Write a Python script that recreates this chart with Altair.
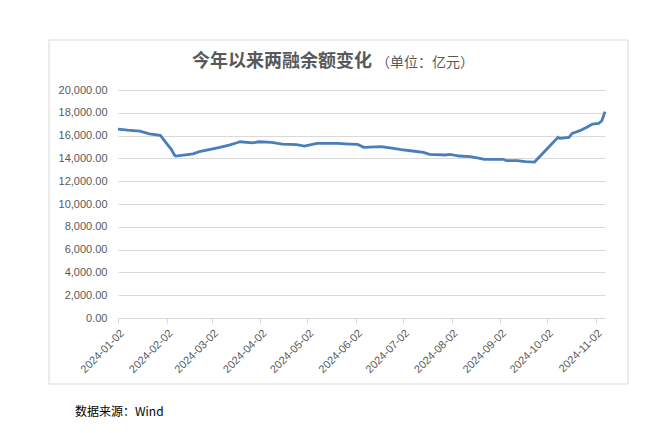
import altair as alt
import pandas as pd

dates = ["2024-01-02","2024-01-08","2024-01-16","2024-01-22","2024-01-29","2024-02-01",
         "2024-02-05","2024-02-07","2024-02-08","2024-02-19","2024-02-23","2024-03-01",
         "2024-03-07","2024-03-13","2024-03-18","2024-03-20","2024-03-28","2024-04-01",
         "2024-04-09","2024-04-16","2024-04-25","2024-04-30","2024-05-08","2024-05-21",
         "2024-05-29","2024-06-03","2024-06-07","2024-06-18","2024-06-26","2024-07-01",
         "2024-07-08","2024-07-15","2024-07-19","2024-07-29","2024-08-01","2024-08-07",
         "2024-08-14","2024-08-20","2024-08-23","2024-09-04","2024-09-06","2024-09-13",
         "2024-09-18","2024-09-24","2024-10-09","2024-10-10","2024-10-16","2024-10-18",
         "2024-10-23","2024-10-28","2024-10-31","2024-11-04","2024-11-06","2024-11-07",
         "2024-11-08"]
values = [16575, 16480, 16400, 16150, 16030, 15500,
          14800, 14300, 14200, 14400, 14590, 14800,
          14970, 15170, 15370, 15460, 15370, 15460,
          15400, 15260, 15200, 15080, 15320, 15320,
          15260, 15230, 14970, 15030, 14880, 14760,
          14650, 14530, 14360, 14300, 14360, 14210,
          14150, 14000, 13920, 13920, 13800, 13800,
          13710, 13680, 15850, 15760, 15850, 16200,
          16430, 16780, 17010, 17080, 17300, 17700,
          18100]

y_ticks = list(range(0, 20001, 2000))
tick_months = list(range(1, 12))

title_main = "今年以来两融余额变化"
title_unit = "（单位：亿元）"
source_text = "数据来源：Wind"

df = pd.DataFrame({"date": pd.to_datetime(dates), "value": values})

W, H = 487, 228

line = alt.Chart(df).mark_line(color="#4a7ebb", strokeWidth=2.8).encode(
    x=alt.X("date:T",
            scale=alt.Scale(domain=[alt.DateTime(year=2024, month=1, date=2),
                                    alt.DateTime(year=2024, month=11, date=8)]),
            axis=alt.Axis(values=[alt.DateTime(year=2024, month=m, date=2) for m in tick_months],
                          format="%Y-%m-%d", labelAngle=-45, labelColor="#595959",
                          labelFontSize=11, labelFont="Liberation Sans",
                          labelOverlap=False, labelBound=False, labelFlush=False,
                          tickColor="#d9d9d9", tickSize=5, domainColor="#d9d9d9",
                          grid=False, title=None, labelPadding=4)),
    y=alt.Y("value:Q",
            scale=alt.Scale(domain=[0, 20000], nice=False),
            axis=alt.Axis(values=y_ticks, format=",.2f", labelColor="#595959",
                          labelFontSize=11, labelFont="Liberation Sans",
                          gridColor="#d9d9d9", domain=False, ticks=False,
                          labelPadding=11, title=None)),
)

one = pd.DataFrame({"k": [0]})

frame = alt.Chart(one).mark_rect(fill=None, stroke="#d9d9d9", strokeWidth=1).encode(
    x=alt.value(-69), x2=alt.value(510), y=alt.value(-50), y2=alt.value(294))

t1 = alt.Chart(one).mark_text(text=title_main, font="Noto Sans CJK SC", fontSize=18,
                              fontWeight="bold", color="#595959", align="left",
                              baseline="middle").encode(x=alt.value(74), y=alt.value(-28))
t2 = alt.Chart(one).mark_text(text=title_unit, font="Noto Sans CJK SC", fontSize=14,
                              color="#595959", align="left",
                              baseline="middle").encode(x=alt.value(258), y=alt.value(-27))
src = alt.Chart(one).mark_text(text=source_text, font="Noto Sans CJK SC", fontSize=12,
                               color="#000000", align="left",
                               baseline="middle").encode(x=alt.value(-43), y=alt.value(322))

chart = alt.layer(frame, line, t1, t2, src).properties(
    width=W, height=H,
    autosize=alt.AutoSizeParams(type="none"),
    padding={"left": 110, "top": 82, "right": 59, "bottom": 100},
    background="white",
).configure_view(stroke=None)

chart.save("out.html", embed_options={"renderer": "svg", "actions": False})
